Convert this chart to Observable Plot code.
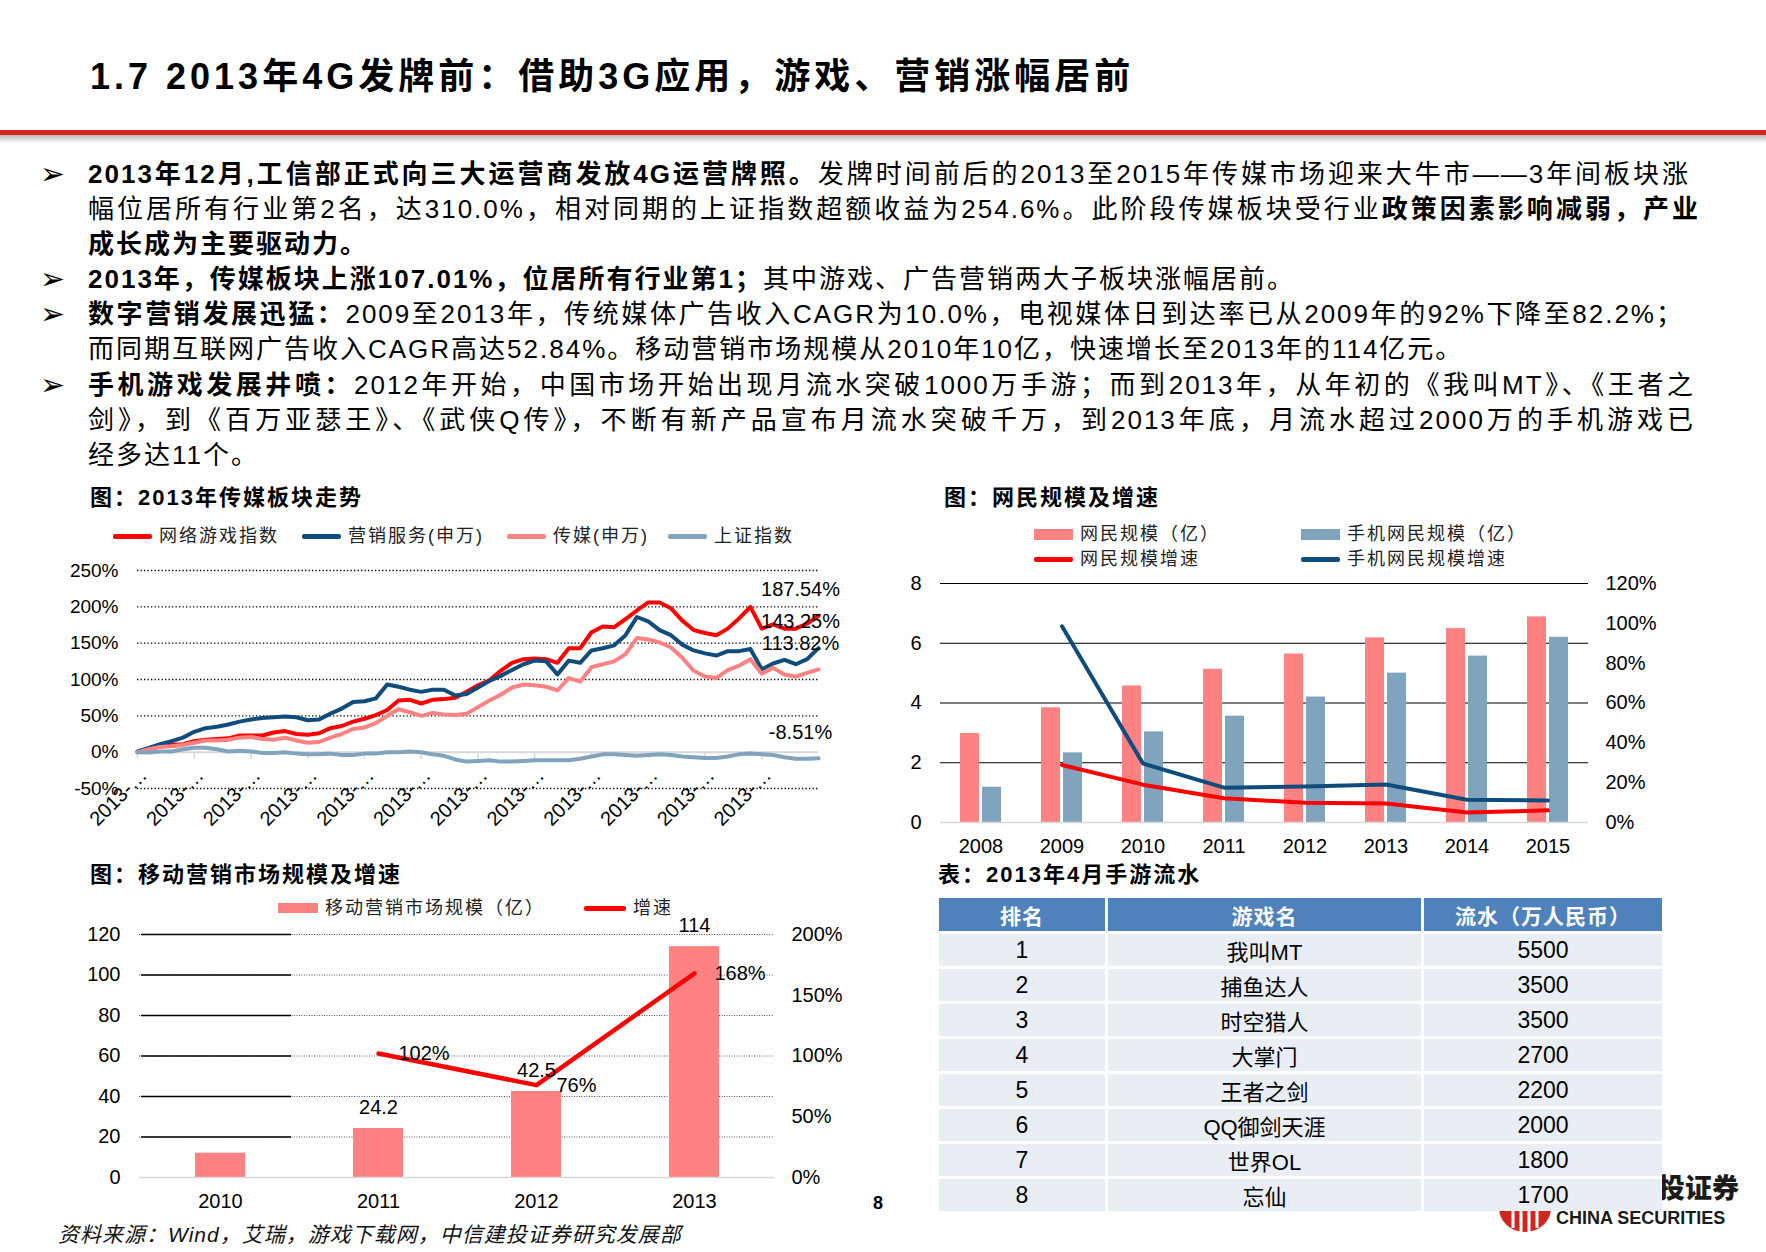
<!DOCTYPE html>
<html lang="zh-CN"><head><meta charset="utf-8">
<script src="https://cdn.jsdelivr.net/npm/d3@7"></script>
<script src="https://cdn.jsdelivr.net/npm/@observablehq/plot@0.6"></script>
<style>
html,body{margin:0;padding:0;background:#fff}
body{width:1766px;height:1252px;position:relative;overflow:hidden;font-family:"Liberation Sans","Noto Sans CJK SC",sans-serif;color:#000}
.a{position:absolute;white-space:nowrap}
#title{left:90px;top:52px;font-size:36px;font-weight:700;letter-spacing:4px;line-height:50px}
#rule{left:0;top:130px;width:1766px;height:5px;background:#d0261d}
#shadow{left:0;top:135px;width:1766px;height:8px;background:linear-gradient(#b8b8b8,#fff)}
#body{left:88px;top:157px;width:1620px;font-size:26px;letter-spacing:2px;line-height:35.1px}
#body .l{white-space:nowrap;height:35.1px;position:relative}
#body .j{text-align:justify;text-align-last:justify}
b{font-weight:700}
.bul{position:absolute;left:-48px;top:-1px;font-family:"DejaVu Sans";font-size:30px;line-height:35px;letter-spacing:0;font-weight:700}
.ct{font-size:22px;font-weight:700;letter-spacing:2px;line-height:30px}
.lg{font-size:18px;letter-spacing:2px;line-height:24px;color:#222}
.sw{position:absolute}
#tblback{position:absolute;left:939px;top:898px;width:723px;height:313px;background:#fff}
.row{position:absolute;left:939px;display:flex}
.cell{margin-left:3px;display:flex;align-items:center;justify-content:center}
.cell:first-child{margin-left:0}
.hd .cell{background:#4f81bd;color:#fff;font-weight:700;font-size:21px;letter-spacing:1px}
.bd .cell{background:#e9edf4;font-size:22px}
.bd .num{font-size:23px}
</style></head><body>
<div class="a" id="title">1.7 2013年4G发牌前：借助3G应用，游戏、营销涨幅居前</div>
<div class="a" id="rule"></div><div class="a" id="shadow"></div>
<div class="a" id="body">
 <div class="l j" style="width:1602px"><span class="bul">➢</span><b>2013年12月,工信部正式向三大运营商发放4G运营牌照。</b>发牌时间前后的2013至2015年传媒市场迎来大牛市——3年间板块涨</div>
 <div class="l j" style="width:1612px">幅位居所有行业第2名，达310.0%，相对同期的上证指数超额收益为254.6%。此阶段传媒板块受行业<b>政策因素影响减弱，产业</b></div>
 <div class="l"><b>成长成为主要驱动力。</b></div>
 <div class="l"><span class="bul">➢</span><b>2013年，传媒板块上涨107.01%，位居所有行业第1；</b>其中游戏、广告营销两大子板块涨幅居前。</div>
 <div class="l j" style="width:1596px"><span class="bul">➢</span><b>数字营销发展迅猛：</b>2009至2013年，传统媒体广告收入CAGR为10.0%，电视媒体日到达率已从2009年的92%下降至82.2%；</div>
 <div class="l">而同期互联网广告收入CAGR高达52.84%。移动营销市场规模从2010年10亿，快速增长至2013年的114亿元。</div>
 <div class="l j" style="width:1607px"><span class="bul">➢</span><b>手机游戏发展井喷：</b>2012年开始，中国市场开始出现月流水突破1000万手游；而到2013年，从年初的《我叫MT》、《王者之</div>
 <div class="l j" style="width:1607px">剑》，到《百万亚瑟王》、《武侠Q传》，不断有新产品宣布月流水突破千万，到2013年底，月流水超过2000万的手机游戏已</div>
 <div class="l">经多达11个。</div>
</div>

<div class="a ct" style="left:90px;top:483px">图：2013年传媒板块走势</div>
<div class="a ct" style="left:944px;top:483px">图：网民规模及增速</div>
<div class="a ct" style="left:90px;top:860px">图：移动营销市场规模及增速</div>
<div class="a ct" style="left:938px;top:860px">表：2013年4月手游流水</div>

<div class="a" id="c1" style="left:40px;top:550px;width:810px;height:290px"></div>
<div class="a" id="c2" style="left:900px;top:570px;width:800px;height:300px"></div>
<div class="a" id="c3" style="left:40px;top:910px;width:840px;height:315px"></div>

<div class="a" style="left:1577px;top:1170px;font-size:27px;font-weight:900;line-height:38px;color:#1a1a1a">中信建投证券</div>
<div class="a" style="left:1556px;top:1207px;font-size:18px;font-weight:700;line-height:22px;color:#1a1a1a">CHINA SECURITIES</div>
<svg class="a" style="left:1497px;top:1206px" width="56" height="28" viewBox="0 0 56 28">
 <path d="M2 2 H54 A26 24 0 0 1 2 2 Z" fill="#d0261d"/>
 <g stroke="#fff" stroke-width="3"><line x1="16" y1="2" x2="16" y2="22"/><line x1="24" y1="2" x2="24" y2="26"/><line x1="32" y1="2" x2="32" y2="26"/><line x1="40" y1="2" x2="40" y2="22"/></g>
</svg>
<div id="tblback"></div>
<div id="tbl"></div>

<div class="a" style="left:873px;top:1190px;font-size:18px;font-weight:700;line-height:26px">8</div>
<div class="a" style="left:58px;top:1221px;font-size:21px;font-style:italic;letter-spacing:1px;line-height:28px;color:#111">资料来源：Wind，艾瑞，游戏下载网，中信建投证券研究发展部</div>

<script>
const FONT = '"Liberation Sans","Noto Sans CJK SC",sans-serif';
const RED = "#ff0000", NAVY = "#0f4c7c", PINK = "#ff8282", GRAYBLUE = "#80a3be";

// ---------- Chart 1: 2013年传媒板块走势 (cumulative %, 61 observations) ----------
const gameIndex  = [0,4,8,10,11,15,17,18,19,23, 23,23,27,29,25,24,26,33,36,42, 46,51,58,71,72,67,72,73,75,83, 92,99,112,123,128,129,128,123,143,143, 165,173,172,183,195,206,206,198,181,168, 164,161,170,184,200,170,176,170,170,177, 187.54];
const marketing  = [1,6,11,15,20,28,33,35,38,42, 45,47,48,49,48,44,45,53,60,69, 70,74,93,90,86,83,86,86,78,80, 89,98,105,113,121,126,125,107,126,123, 140,143,147,161,186,180,168,161,148,140, 136,133,139,139,142,114,122,127,121,128, 143.25];
const media      = [0,4,7,8,10,13,16,16,17,20, 21,18,17,20,16,13,14,20,25,32, 34,40,50,59,55,50,54,52,51,53, 62,71,79,89,93,92,90,85,102,97, 117,121,125,135,157,155,151,144,130,112, 104,102,113,119,128,108,116,107,104,109, 113.82];
const shIndex    = [0,-0.5,1,1,4,6,6,4,1,2, 1,-1,-1,0,-2,-3,-3,-2,-4,-4, -2,-2,0,0,1,0,-3,-5,-10,-13, -12,-11,-13,-13,-12,-11,-11,-11,-11,-9, -6,-3,-3,-4,-5,-4,-3,-4,-6,-7, -8,-8,-6,-3,-2,-3,-4,-7,-9,-9, -8.51];
const series1 = [
  {name: "网络游戏指数", values: gameIndex, color: RED},
  {name: "营销服务(申万)", values: marketing, color: NAVY},
  {name: "传媒(申万)", values: media, color: PINK},
  {name: "上证指数", values: shIndex, color: GRAYBLUE}
];
const yTicks1 = [-50, 0, 50, 100, 150, 200, 250];
const xTickPos1 = [0, 5, 10, 15, 20, 25, 30, 35, 40, 45, 50, 55];
const xTickLabel1 = "2013-…";

// ---------- Chart 2: 网民规模及增速 ----------
const years2 = ["2008","2009","2010","2011","2012","2013","2014","2015"];
const netUsers = [2.98, 3.84, 4.57, 5.13, 5.64, 6.18, 6.49, 6.88];
const mobileUsers = [1.18, 2.33, 3.03, 3.56, 4.20, 5.00, 5.57, 6.20];
const netGrowth = [null, 28.9, 19.0, 12.2, 9.9, 9.5, 5.0, 6.1];
const mobileGrowth = [null, 98.5, 29.6, 17.5, 18.1, 19.1, 11.4, 11.1];
const yTicks2 = [0, 2, 4, 6, 8];
const yTicks2R = [0, 20, 40, 60, 80, 100, 120];

// ---------- Chart 3: 移动营销市场规模及增速 ----------
const years3 = ["2010","2011","2012","2013"];
const mobileMkt = [12, 24.2, 42.5, 114];
const mobileMktLabels = [null, "24.2", "42.5", "114"];
const mobileMktGrowth = [null, 102, 76, 168];
const yTicks3 = [0, 20, 40, 60, 80, 100, 120];
const yTicks3R = [0, 50, 100, 150, 200];

// ---------- Table: 2013年4月手游流水 ----------
const tableHead = ["排名", "游戏名", "流水（万人民币）"];
const ranks = [1, 2, 3, 4, 5, 6, 7, 8];
const gameNames = ["我叫MT", "捕鱼达人", "时空猎人", "大掌门", "王者之剑", "QQ御剑天涯", "世界OL", "忘仙"];
const revenue = [5500, 3500, 3500, 2700, 2200, 2000, 1800, 1700];

// ---------- legends ----------
function legend(items) {
  for (const it of items) {
    const sw = document.createElement("div");
    sw.className = "sw";
    const h = it.type === "rect" ? (it.h || 11) : 5;
    sw.style.cssText = `left:${it.x}px;top:${it.y - h / 2}px;width:${it.w || 39}px;height:${h}px;background:${it.color};border-radius:${it.type === "rect" ? 0 : 2}px`;
    document.body.appendChild(sw);
    const t = document.createElement("div");
    t.className = "a lg";
    t.textContent = it.label;
    t.style.left = (it.x + (it.w || 39) + 7) + "px";
    t.style.top = (it.y - 12) + "px";
    document.body.appendChild(t);
  }
}
const lx1 = [113, 302, 507, 668];
legend(series1.map((s, i) => ({x: lx1[i], y: 536, type: "line", color: s.color, label: s.name})));
legend([
  {x: 1034, y: 534, type: "rect", color: PINK, label: "网民规模（亿）"},
  {x: 1301, y: 534, type: "rect", color: GRAYBLUE, label: "手机网民规模（亿）"},
  {x: 1034, y: 559, type: "line", color: RED, label: "网民规模增速"},
  {x: 1301, y: 559, type: "line", color: NAVY, label: "手机网民规模增速"}
]);
legend([
  {x: 278, y: 908, type: "rect", h: 10, w: 40, color: PINK, label: "移动营销市场规模（亿）"},
  {x: 584, y: 908, type: "line", w: 42, color: RED, label: "增速"}
]);

const baseStyle = {fontFamily: FONT, fontSize: "19px", color: "#000", background: "transparent", overflow: "visible"};

// ---------- Chart 1 render ----------
const xTicks1 = xTickPos1.map(i => ({i, label: xTickLabel1}));
const ends1 = series1.map(s => ({i: s.values.length - 1, v: s.values[s.values.length - 1]}));
const c1 = Plot.plot({
  width: 810, height: 290,
  marginLeft: 97, marginRight: 32, marginTop: 20, marginBottom: 52,
  style: baseStyle,
  x: {domain: [0, 60], axis: null},
  y: {domain: [-50, 250], label: null},
  marks: [
    Plot.ruleY(yTicks1.filter(d => d !== 0), {stroke: "#000", strokeWidth: 1.3, strokeDasharray: "1.3,2.2"}),
    Plot.ruleY([0], {stroke: "#d9d9d9", strokeWidth: 2}),
    Plot.ruleX(xTicks1, {x: "i", y1: () => 0, y2: () => 0, insetBottom: -7, stroke: "#d9d9d9", strokeWidth: 1.5}),
    Plot.axisY(yTicks1, {tickSize: 0, tickPadding: 19, tickFormat: d => d + "%", fontSize: 19, label: null}),
    ...series1.map(s => Plot.line(s.values, {x: (d, i) => i, y: d => d, stroke: s.color, strokeWidth: 4, strokeLinejoin: "round"})),
    Plot.text(xTicks1, {x: "i", y: () => 0, text: "label", rotate: -45, textAnchor: "end", dx: 6, dy: 20, fontSize: 20}),
    Plot.text(ends1, {x: "i", y: "v", text: d => d.v.toFixed(2) + "%", dx: -18, dy: -26, fontSize: 20})
  ]
});
document.getElementById("c1").appendChild(c1);

// ---------- Chart 2 render ----------
const rows2 = years2.map((y, i) => ({year: y, net: netUsers[i], mob: mobileUsers[i], ng: netGrowth[i], mg: mobileGrowth[i]}));
const k2 = 120 / 8; // right axis % per left unit
const c2 = Plot.plot({
  width: 800, height: 300,
  marginLeft: 40, marginRight: 112, marginTop: 13, marginBottom: 48,
  style: baseStyle,
  x: {type: "band", domain: years2, paddingInner: 0.49, paddingOuter: 0.245, label: null},
  y: {domain: [0, 8], label: null},
  marks: [
    Plot.ruleY(yTicks2.filter(d => d !== 0), {stroke: "#000", strokeWidth: 1}),
    Plot.barY(rows2, {x: "year", y: "net", fill: PINK, insetRight: 22}),
    Plot.barY(rows2, {x: "year", y: "mob", fill: GRAYBLUE, insetLeft: 22}),
    Plot.ruleY([0], {stroke: "#d9d9d9", strokeWidth: 1.5}),
    Plot.line(rows2.filter(d => d.ng != null), {x: "year", y: d => d.ng / k2, stroke: RED, strokeWidth: 4, strokeLinejoin: "round"}),
    Plot.line(rows2.filter(d => d.mg != null), {x: "year", y: d => d.mg / k2, stroke: NAVY, strokeWidth: 4, strokeLinejoin: "round"}),
    Plot.axisY(yTicks2, {tickSize: 0, tickPadding: 19, fontSize: 20, label: null}),
    Plot.axisY(yTicks2R.map(t => t / k2), {anchor: "right", tickSize: 0, tickPadding: 17, fontSize: 20, tickFormat: d => Math.round(d * k2) + "%", label: null}),
    Plot.axisX({tickSize: 0, tickPadding: 16, fontSize: 20, label: null})
  ]
});
document.getElementById("c2").appendChild(c2);

// ---------- Chart 3 render ----------
const rows3 = years3.map((y, i) => ({year: y, v: mobileMkt[i], label: mobileMktLabels[i], g: mobileMktGrowth[i]}));
const k3 = 200 / 120;
const grid3 = yTicks3.filter(d => d !== 0);
const c3 = Plot.plot({
  width: 840, height: 315,
  marginLeft: 99, marginRight: 106, marginTop: 24, marginBottom: 48,
  style: baseStyle,
  x: {type: "band", domain: years3, paddingInner: 0.685, paddingOuter: 0.3425, label: null},
  y: {domain: [0, 120], label: null},
  marks: [
    Plot.ruleY(grid3, {stroke: "#555", strokeWidth: 1, strokeDasharray: "1,1.5"}),
    Plot.ruleY(grid3, {x1: () => years3[0], x2: () => years3[0], insetLeft: -54, insetRight: -46, stroke: "#000", strokeWidth: 1.4}),
    Plot.barY(rows3, {x: "year", y: "v", fill: PINK}),
    Plot.ruleY([0], {stroke: "#d9d9d9", strokeWidth: 1.5}),
    Plot.line(rows3.filter(d => d.g != null), {x: "year", y: d => d.g / k3, stroke: RED, strokeWidth: 4.5, strokeLinejoin: "round"}),
    Plot.text(rows3.filter(d => d.label), {x: "year", y: "v", text: "label", dy: -21, fontSize: 20}),
    Plot.text(rows3.filter(d => d.g != null), {x: "year", y: d => d.g / k3, text: d => d.g + "%", textAnchor: "start", dx: 20, fontSize: 20}),
    Plot.axisY(yTicks3, {tickSize: 0, tickPadding: 19, fontSize: 20, label: null}),
    Plot.axisY(yTicks3R.map(t => t / k3), {anchor: "right", tickSize: 0, tickPadding: 17, fontSize: 20, tickFormat: d => Math.round(d * k3) + "%", label: null}),
    Plot.axisX({tickSize: 0, tickPadding: 16, fontSize: 20, label: null})
  ]
});
document.getElementById("c3").appendChild(c3);

// ---------- Table render ----------
const colW = [166, 313, 238];
const tbl = document.getElementById("tbl");
function addRow(cells, top, h, cls) {
  const r = document.createElement("div");
  r.className = "row " + cls;
  r.style.top = top + "px";
  cells.forEach((c, j) => {
    const d = document.createElement("div");
    d.className = "cell" + (cls === "bd" && j !== 1 ? " num" : "");
    d.style.width = colW[j] + "px";
    d.style.height = h + "px";
    d.textContent = c;
    r.appendChild(d);
  });
  tbl.appendChild(r);
}
addRow(tableHead, 898, 33, "hd");
ranks.forEach((rk, i) => addRow([rk, gameNames[i], revenue[i]], 934 + i * 35, 32, "bd"));
</script>
</body></html>
